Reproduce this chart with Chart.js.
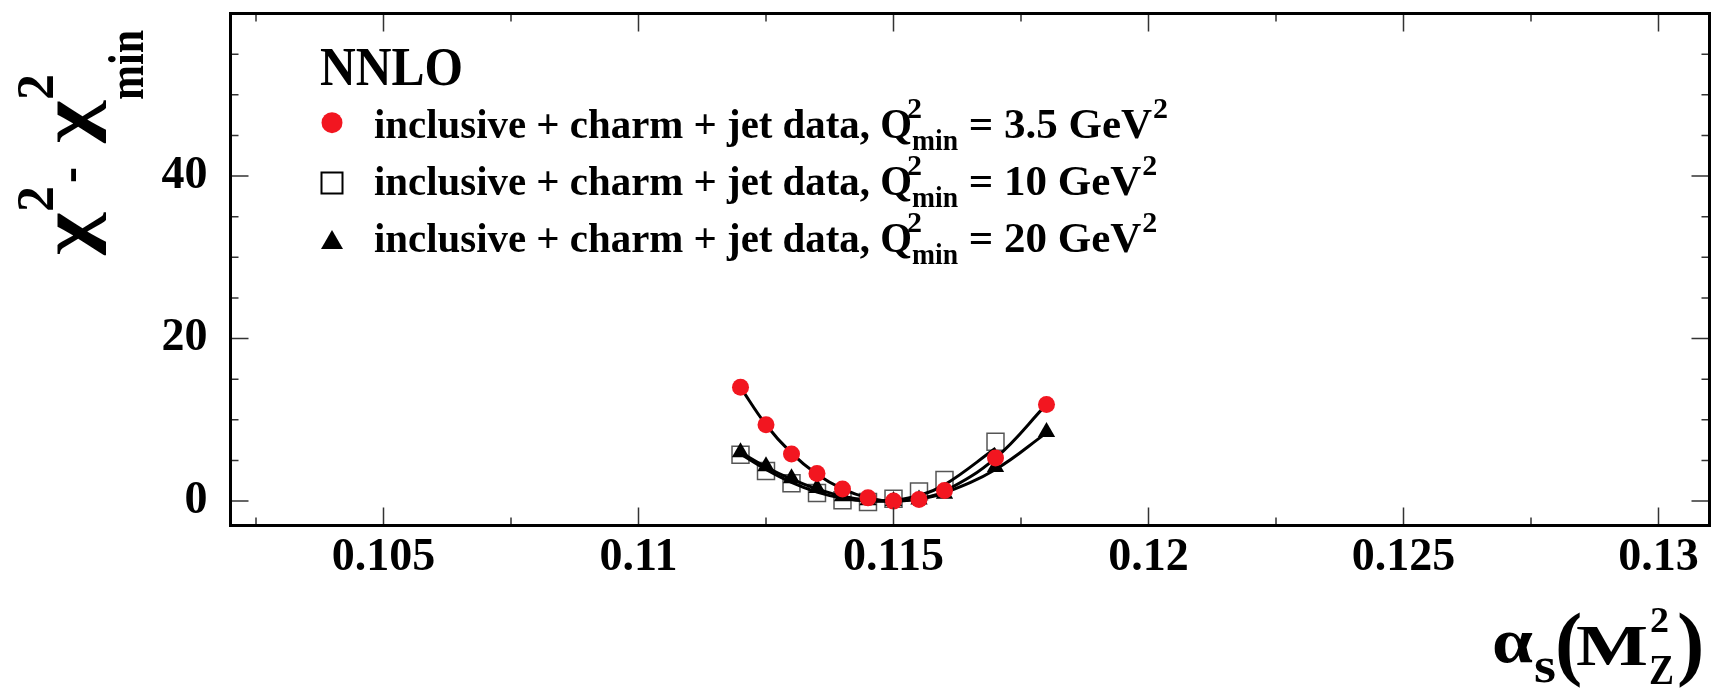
<!DOCTYPE html>
<html>
<head>
<meta charset="utf-8">
<script src="https://cdn.jsdelivr.net/npm/chart.js@4.4.0/dist/chart.umd.min.js"></script>
<style>
  body { margin: 0; background: #fff; }
  #wrap { width: 1723px; height: 689px; }
</style>
</head>
<body>
<div id="wrap"><canvas id="mycanvas" width="1723" height="689"></canvas></div>
<script>
// alpha_s values of the scan points
var alphaS = [0.112, 0.1125, 0.113, 0.1135, 0.114, 0.1145, 0.115, 0.1155, 0.116, 0.117, 0.118];
var alphaSQ10 = [0.112, 0.1125, 0.113, 0.1135, 0.114, 0.1145, 0.115, 0.1155, 0.116, 0.117];

// chi2 - chi2min, points
var chi2Q35 = [14.0, 9.4, 5.8, 3.4, 1.5, 0.4, 0.0, 0.2, 1.3, 5.3, 11.9];
var chi2Q10 = [5.7, 3.7, 2.2, 1.0, 0.1, -0.1, 0.3, 1.2, 2.6, 7.3];
var chi2Q20 = [6.0, 4.3, 2.8, 1.6, 0.6, 0.1, 0.0, 0.2, 0.9, 4.2, 8.5];

// fitted curves
var fitQ35 = [14.0, 9.4, 5.9, 3.3, 1.5, 0.4, 0.0, 0.3, 1.2, 5.3, 11.9];
var fitQ10 = [5.8, 3.9, 2.3, 1.1, 0.35, 0.0, 0.1, 0.7, 2.0, 6.5];
var fitQ20 = [6.0, 4.2, 2.7, 1.5, 0.6, 0.1, 0.0, 0.3, 1.0, 3.9, 8.4];

var q2min = ['3.5', '10', '20'];
var xTickValues = [0.105, 0.11, 0.115, 0.12, 0.125, 0.13];
var xTickLabels = ['0.105', '0.11', '0.115', '0.12', '0.125', '0.13'];
var yTickValues = [0, 20, 40];
var yTickLabels = ['0', '20', '40'];

var FONT = '"Liberation Serif"';
var RED = 'rgb(242,22,32)';

function pts(xs, ys) {
  var out = [];
  for (var i = 0; i < ys.length; i++) out.push({x: xs[i], y: ys[i]});
  return out;
}

function piece(ctx, s, size, x, y, w) {
  ctx.font = 'bold ' + size + 'px ' + FONT;
  var m = ctx.measureText(s).width;
  ctx.save();
  ctx.translate(x, y);
  if (w) ctx.scale(w / m, 1);
  ctx.fillText(s, 0, 0);
  ctx.restore();
  return x + (w ? w : m);
}

var overlay = {
  id: 'overlay',
  afterDraw: function(chart) {
    var ctx = chart.ctx, a = chart.chartArea;
    var xs = chart.scales.x, ys = chart.scales.y;
    var k, p, len;
    ctx.save();

    // tick marks, inside, all four sides
    ctx.strokeStyle = '#333';
    ctx.lineWidth = 1.5;
    ctx.beginPath();
    for (k = 41; k <= 52; k++) {
      p = xs.getPixelForValue(k * 0.0025);
      len = (k % 2 === 0) ? 18 : 8;
      ctx.moveTo(p, a.bottom); ctx.lineTo(p, a.bottom - len);
      ctx.moveTo(p, a.top); ctx.lineTo(p, a.top + len);
    }
    for (k = 0; k <= 11; k++) {
      p = ys.getPixelForValue(k * 5);
      len = (k % 4 === 0) ? 18 : 8;
      ctx.moveTo(a.left, p); ctx.lineTo(a.left + len, p);
      ctx.moveTo(a.right, p); ctx.lineTo(a.right - len, p);
    }
    ctx.stroke();

    // frame
    ctx.strokeStyle = '#000';
    ctx.lineWidth = 3;
    ctx.strokeRect(a.left, a.top, a.right - a.left, a.bottom - a.top);

    ctx.fillStyle = '#000';
    ctx.textBaseline = 'alphabetic';
    ctx.textAlign = 'left';

    // legend
    piece(ctx, 'NNLO', 54, 320, 85, 143);
    var rows = [138, 195, 252];
    var mk = [122.7, 183, 240];
    ctx.fillStyle = RED;
    ctx.beginPath(); ctx.arc(332, mk[0], 10.5, 0, Math.PI * 2); ctx.fill();
    ctx.strokeStyle = '#000'; ctx.lineWidth = 2;
    ctx.strokeRect(321.5, mk[1] - 10.5, 21, 21);
    ctx.fillStyle = '#000';
    ctx.beginPath();
    ctx.moveTo(332, mk[2] - 10); ctx.lineTo(343, mk[2] + 9); ctx.lineTo(321, mk[2] + 9);
    ctx.closePath(); ctx.fill();

    for (var r = 0; r < 3; r++) {
      var y = rows[r];
      var x = piece(ctx, 'inclusive + charm + jet data, Q', 43, 374, y, 538);
      piece(ctx, '2', 30, x - 5, y - 20);
      var x2 = piece(ctx, 'min', 30, x, y + 12, 46);
      x = piece(ctx, ' = ' + q2min[r] + ' GeV', 43, x2, y);
      piece(ctx, '2', 30, x + 1, y - 20);
    }

    // x axis title: alpha_s(M_Z^2)
    piece(ctx, '\u03b1', 64, 1492, 662, 41);
    piece(ctx, 's', 50, 1534, 682, 22);
    piece(ctx, '(', 82, 1555, 670);
    piece(ctx, 'M', 56, 1576, 665, 72);
    piece(ctx, '2', 36, 1650, 632, 19);
    piece(ctx, 'Z', 42, 1649, 684, 25);
    piece(ctx, ')', 82, 1677, 670);

    // y axis title: chi^2 - chi^2_min (rotated)
    ctx.translate(91, 255);
    ctx.rotate(-Math.PI / 2);
    piece(ctx, '\u03c7', 72, 0, 0, 42);
    piece(ctx, '2', 52, 43, -38, 26);
    piece(ctx, '-', 56, 72, -4, 16);
    piece(ctx, '\u03c7', 72, 112, 0, 42);
    piece(ctx, '2', 52, 155, -38, 26);
    piece(ctx, 'min', 50, 155, 52, 70);

    ctx.restore();
  }
};

var ctx1 = document.getElementById('mycanvas').getContext('2d');
var chart = new Chart(ctx1, {
  type: 'scatter',
  data: {
    datasets: [
      {
        label: 'Q2min = 3.5',
        data: pts(alphaS, chi2Q35),
        pointStyle: 'circle',
        pointRadius: 8.5,
        backgroundColor: RED,
        borderWidth: 0,
        order: 0
      },
      {
        label: 'fit 3.5',
        data: pts(alphaS, fitQ35),
        showLine: true,
        pointRadius: 0,
        borderColor: '#000',
        borderWidth: 3,
        tension: 0.4,
        order: 1
      },
      {
        label: 'fit 10',
        data: pts(alphaSQ10, fitQ10),
        showLine: true,
        pointRadius: 0,
        borderColor: '#000',
        borderWidth: 3,
        tension: 0.4,
        order: 1
      },
      {
        label: 'fit 20',
        data: pts(alphaS, fitQ20),
        showLine: true,
        pointRadius: 0,
        borderColor: '#000',
        borderWidth: 3,
        tension: 0.4,
        order: 1
      },
      {
        label: 'Q2min = 20',
        data: pts(alphaS, chi2Q20),
        pointStyle: 'triangle',
        pointRadius: 10,
        backgroundColor: '#000',
        borderWidth: 0,
        order: 2
      },
      {
        label: 'Q2min = 10',
        data: pts(alphaSQ10, chi2Q10),
        pointStyle: 'rect',
        pointRadius: 12,
        backgroundColor: 'rgba(0,0,0,0)',
        borderColor: '#555',
        borderWidth: 1.5,
        order: 3
      }
    ]
  },
  options: {
    responsive: false,
    animation: false,
    devicePixelRatio: 1,
    layout: { padding: { left: 0, right: 7.5, top: 8.5, bottom: 0 } },
    plugins: { legend: { display: false }, tooltip: { enabled: false } },
    scales: {
      x: {
        type: 'linear',
        min: 0.102,
        max: 0.131,
        grid: { display: false, drawTicks: false },
        border: { display: false },
        afterBuildTicks: function(s) {
          s.ticks = xTickValues.map(function(v) { return {value: v}; });
        },
        afterFit: function(s) {
          s.height = 163.5;
          s.paddingLeft = 0; s.paddingRight = 0;
        },
        ticks: {
          autoSkip: false,
          maxRotation: 0,
          padding: 5,
          color: '#000',
          font: { family: FONT, size: 46, weight: 'bold' },
          callback: function(v, i) { return xTickLabels[i]; }
        }
      },
      y: {
        type: 'linear',
        min: -3,
        max: 60,
        grid: { display: false, drawTicks: false },
        border: { display: false },
        afterBuildTicks: function(s) {
          s.ticks = yTickValues.map(function(v) { return {value: v}; });
        },
        afterFit: function(s) {
          s.width = 230.5;
          s.paddingTop = 0; s.paddingBottom = 0;
        },
        ticks: {
          autoSkip: false,
          padding: 23,
          color: '#000',
          font: { family: FONT, size: 46, weight: 'bold' },
          callback: function(v, i) { return yTickLabels[i]; }
        }
      }
    }
  },
  plugins: [overlay]
});
</script>
</body>
</html>
